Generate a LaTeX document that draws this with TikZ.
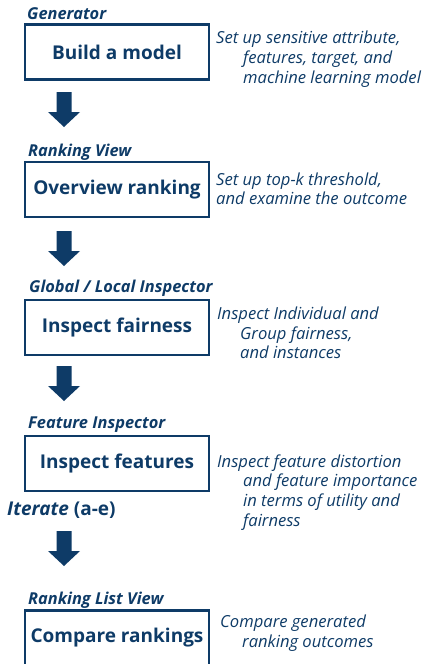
\documentclass[tikz,border=0pt]{standalone}
\usepackage{fontspec}
\setmainfont{Open Sans}
\usetikzlibrary{calc}
\definecolor{navy}{HTML}{0E3B67}
\begin{document}
\begin{tikzpicture}[x=1pt,y=-1pt,
  stepbox/.style={draw=navy,line width=2.6pt,minimum width=184pt,minimum height=55pt,
    inner sep=0pt,text=navy,font=\fontsize{19}{22}\selectfont\bfseries},
  viewlabel/.style={anchor=base west,inner sep=0pt,text=navy,font=\fontsize{16.4}{18}\selectfont\bfseries\itshape},
  desc/.style={anchor=base west,inner sep=0pt,text=navy,font=\fontsize{16.6}{19}\selectfont\itshape},
  blockarrow/.pic={\fill[navy] (-7.5,0) -- (7.5,0) -- (7.5,20) -- (16,20) -- (0,35) -- (-16,20) -- (-7.5,20) -- cycle;}
]
\useasboundingbox (0,0) rectangle (422,664);
\clip (0,0) rectangle (422,664);
% boxes
\node[stepbox] (b1) at (117,52) {Build a model};
\node[stepbox] (b2) at (117,189.5) {Overview ranking};
\node[stepbox] (b3) at (117,327.5) {Inspect fairness};
\node[stepbox] (b4) at (117,463.5) {Inspect features};
\node[stepbox] (b5) at (117,638) {Compare rankings};
% view labels
\node[viewlabel] (l1) at (27,19) {Generator};
\node[viewlabel] (l2) at (28,156) {Ranking View};
\node[viewlabel] (l3) at (29,292) {Global / Local Inspector};
\node[viewlabel] (l4) at (28,428) {Feature Inspector};
\node[viewlabel] (l5) at (28,604) {Ranking List View};
% iterate
\node[anchor=base west,inner sep=0pt,text=navy,font=\fontsize{19}{22}\selectfont\bfseries] (it) at (7,515) {\itshape Iterate\/ \upshape(a-e)};
% arrows
\coordinate (a1) at (64,92);
\coordinate (a2) at (64,231);
\coordinate (a3) at (64,366);
\coordinate (a4) at (64,531);
\pic at (a1) {blockarrow};
\pic at (a2) {blockarrow};
\pic at (a3) {blockarrow};
\pic at (a4) {blockarrow};
% descriptions
\node[desc] (d11) at (216,43) {Set up sensitive attribute,};
\node[desc] (d12) at (243,63) {features, target, and};
\node[desc] (d13) at (243,83) {machine learning model};
\node[desc] (d21) at (216,185) {Set up top-k threshold,};
\node[desc] (d22) at (216,204) {and examine the outcome};
\node[desc] (d31) at (217,319) {Inspect Individual and};
\node[desc] (d32) at (240,339) {Group fairness,};
\node[desc] (d33) at (240,358) {and instances};
\node[desc] (d41) at (217,467) {Inspect feature distortion};
\node[desc] (d42) at (243,486) {and feature importance};
\node[desc] (d43) at (243,506) {in terms of utility and};
\node[desc] (d44) at (243,526) {fairness};
\node[desc] (d51) at (220,627) {Compare generated};
\node[desc] (d52) at (242,647) {ranking outcomes};
\end{tikzpicture}
\end{document}
